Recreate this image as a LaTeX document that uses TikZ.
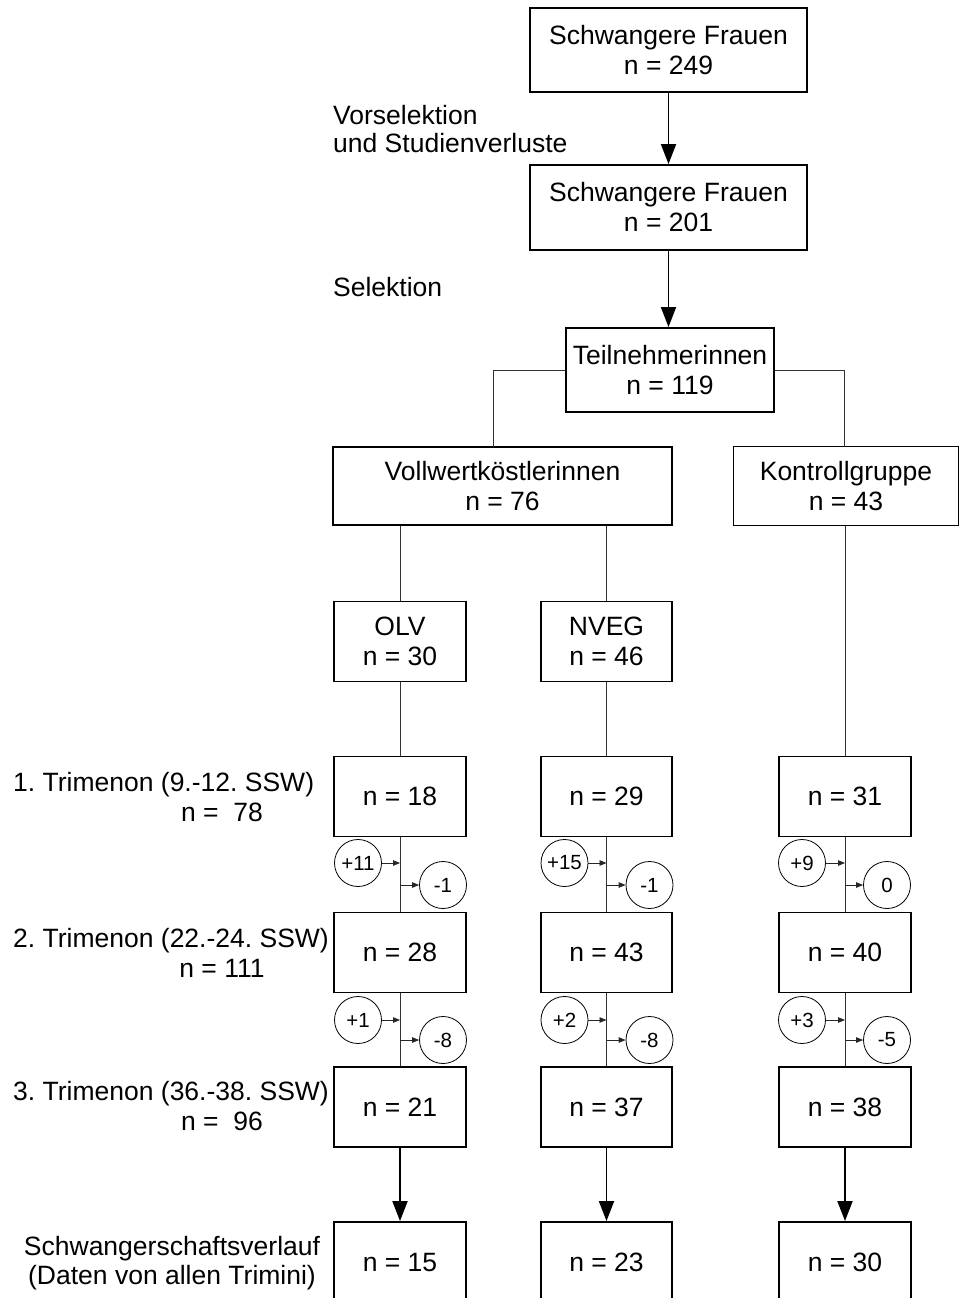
\documentclass[tikz,border=0pt]{standalone}
\usepackage{fontspec}
\setmainfont{Liberation Sans}
\usetikzlibrary{arrows.meta}
\frenchspacing
\begin{document}
\begin{tikzpicture}[x=1pt,y=-1pt,
  txt/.style={inner sep=0pt,align=center,font=\fontsize{26.5}{30}\selectfont},
  lbl/.style={inner sep=0pt,align=left,font=\fontsize{26.5}{28.5}\selectfont},
  box/.style={draw,line width=1.9pt,txt,inner sep=0pt},
  circ/.style={draw,circle,line width=0.8pt,minimum size=47pt,inner sep=0pt,font=\fontsize{20.5}{22}\selectfont},
  conn/.style={line width=0.9pt,draw=black!80},
  sarr/.style={line width=0.8pt,draw=black!85,-{Triangle[length=7pt,width=5.5pt]}},
  barr/.style={line width=1.9pt,-{Triangle[length=20pt,width=15pt]}}
]
\useasboundingbox (0,0) rectangle (963,1298);
\clip (0,0) rectangle (963,1298);

% top boxes
\node[box,minimum width=277pt,minimum height=84pt] (top1) at (668.5,50) {Schwangere Frauen\\n = 249};
\node[box,minimum width=277pt,minimum height=85pt] (top2) at (668.5,207.5) {Schwangere Frauen\\n = 201};
\node[box,minimum width=208pt,minimum height=84pt] (teil) at (670,370) {Teilnehmerinnen\\n = 119};
\node[box,minimum width=339pt,minimum height=78pt] (voll) at (502.5,486) {Vollwertköstlerinnen\\n = 76};
\node[box,minimum width=225pt,minimum height=79pt] (kontr) at (846,486) {Kontrollgruppe\\n = 43};
\node[box,minimum width=132pt,minimum height=80pt] (olv) at (400,641.5) {OLV\\n = 30};
\node[box,minimum width=131pt,minimum height=80pt] (nveg) at (606.5,641.5) {NVEG\\n = 46};

% trimenon boxes
\foreach \r/\y in {1/796.5,2/952.5,3/1107,4/1262}{
  \node[box,minimum width=132pt,minimum height=80pt] (t\r a) at (400,\y) {};
  \node[box,minimum width=131pt,minimum height=80pt] (t\r b) at (606.5,\y) {};
  \node[box,minimum width=132pt,minimum height=80pt] (t\r c) at (845,\y) {};
}
\node[txt] at (t1a) {n = 18};
\node[txt] at (t1b) {n = 29};
\node[txt] at (t1c) {n = 31};
\node[txt] at (t2a) {n = 28};
\node[txt] at (t2b) {n = 43};
\node[txt] at (t2c) {n = 40};
\node[txt] at (t3a) {n = 21};
\node[txt] at (t3b) {n = 37};
\node[txt] at (t3c) {n = 38};
\node[txt] at (t4a) {n = 15};
\node[txt] at (t4b) {n = 23};
\node[txt] at (t4c) {n = 30};

% left labels
\node[lbl,anchor=west] (vor) at (333,129) {Vorselektion\\und Studienverluste};
\node[lbl,anchor=west] (sel) at (333,287) {Selektion};
\node[lbl,anchor=west] (l1) at (13,785) {1. Trimenon (9.-12. SSW)};
\node[lbl] (l1n) at (222,812) {n =\ \ 78};
\node[lbl,anchor=west] (l2) at (13,941) {2. Trimenon (22.-24. SSW)};
\node[lbl] (l2n) at (222,968) {n = 111};
\node[lbl,anchor=west] (l3) at (13,1094) {3. Trimenon (36.-38. SSW)};
\node[lbl] (l3n) at (222,1121) {n =\ \ 96};
\node[lbl,align=center] (l4) at (172,1263) {Schwangerschaftsverlauf\\(Daten von allen Trimini)};

% big arrows
\draw[barr] (top1) -- (top2);
\draw[barr] (top2.south) -- (top2.south |- teil.north);
\draw[barr] (t3a) -- (t4a);
\draw[barr] (t3b) -- (t4b);
\draw[barr] (t3c) -- (t4c);

% tree connectors
\coordinate (vj) at (493,447);
\coordinate (kj) at (844.5,447);
\draw[conn] (teil.west) -| (vj);
\draw[conn] (teil.east) -| (kj);
\draw[conn] (voll.south -| olv) -- (olv);
\draw[conn] (voll.south -| nveg) -- (nveg);
\draw[conn] (olv) -- (t1a);
\draw[conn] (nveg) -- (t1b);
\draw[conn] (kontr.south -| t1c) -- (t1c);
\foreach \c in {a,b,c}{
  \draw[conn] (t1\c) -- (t2\c);
  \draw[conn] (t2\c) -- (t3\c);
}

% circles
\node[circ] (p1a) at (358,863) {+11};
\node[circ] (m1a) at (443,885) {-1};
\node[circ] (p1b) at (564.5,863) {+15};
\node[circ] (m1b) at (649.5,885) {-1};
\node[circ] (p1c) at (802,863) {+9};
\node[circ] (m1c) at (887,885) {0};
\node[circ] (p2a) at (358,1020) {+1};
\node[circ] (m2a) at (443,1040) {-8};
\node[circ] (p2b) at (564.5,1020) {+2};
\node[circ] (m2b) at (649.5,1040) {-8};
\node[circ] (p2c) at (802,1020) {+3};
\node[circ] (m2c) at (887,1040) {-5};
\foreach \r in {1,2}{
  \foreach \c in {a,b,c}{
    \draw[sarr] (p\r\c.east) -- (p\r\c.east -| t1\c);
    \draw[sarr] (m\r\c.west -| t1\c) -- (m\r\c.west);
  }
}
\end{tikzpicture}
\end{document}
